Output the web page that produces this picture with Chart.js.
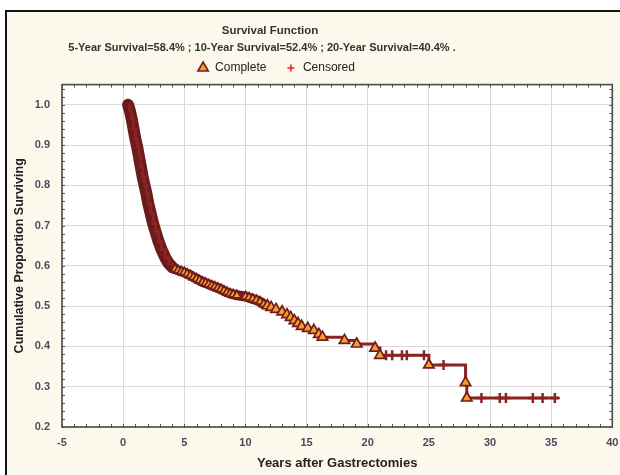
<!DOCTYPE html>
<html><head><meta charset="utf-8">
<script src="https://cdn.jsdelivr.net/npm/chart.js@4.4.1/dist/chart.umd.min.js"></script>
<style>
html,body{margin:0;padding:0;background:#fff;width:620px;height:475px;overflow:hidden;}
#frame{position:absolute;left:5px;top:10px;width:700px;height:600px;border:2px solid #111;background:#fdf8ec;}
#c{position:absolute;left:0;top:0;}
</style></head><body>
<div id="frame"></div>
<canvas id="c" width="620" height="475"></canvas>
<script>
// ---- text ----
const titleText = 'Survival Function';
const subtitleText = '5-Year Survival=58.4% ; 10-Year Survival=52.4% ; 20-Year Survival=40.4% .';
const xAxisTitle = 'Years after Gastrectomies';
const yAxisTitle = 'Cumulative Proportion Surviving';
const legendLabels = ['Complete', 'Censored'];

// ---- ticks ----
const xTickValues = [-5, 0, 5, 10, 15, 20, 25, 30, 35, 40];
const yTickValues = [0.2, 0.3, 0.4, 0.5, 0.6, 0.7, 0.8, 0.9, 1.0];

// ---- data: dense early part of the curve (many overlapping events) ----
const earlyTimes = [0.40, 0.55, 0.70, 0.85, 1.00, 1.15, 1.30, 1.45, 1.60, 1.75, 1.90, 2.05, 2.25, 2.45, 2.65, 2.90, 3.15, 3.45, 3.75, 4.05];
const earlySurv  = [1.000, 0.985, 0.965, 0.940, 0.915, 0.895, 0.870, 0.845, 0.820, 0.800, 0.780, 0.755, 0.730, 0.705, 0.685, 0.660, 0.640, 0.620, 0.605, 0.596];

// ---- data: complete (event) times and survival after each event ----
const eventTimes = [4.25, 4.50, 4.75, 5.00, 5.25, 5.50, 5.75, 6.00, 6.25, 6.50, 6.75, 7.00, 7.25, 7.50, 7.75, 8.00, 8.25, 8.50, 8.75, 9.00, 9.30,
                    10.00, 10.30, 10.60, 10.90, 11.20, 11.50, 11.80, 12.10, 12.50, 13.00, 13.40, 13.70, 14.00, 14.30, 14.60, 15.10, 15.60, 16.00, 16.30,
                    18.10, 19.10, 20.60, 21.00, 25.00, 28.00, 28.10];
const eventSurv  = [0.592, 0.589, 0.586, 0.584, 0.580, 0.576, 0.572, 0.568, 0.564, 0.560, 0.557, 0.554, 0.551, 0.548, 0.545, 0.542, 0.538, 0.534, 0.531, 0.529, 0.527,
                    0.524, 0.521, 0.518, 0.515, 0.511, 0.505, 0.501, 0.497, 0.492, 0.486, 0.479, 0.472, 0.464, 0.457, 0.450, 0.445, 0.440, 0.430, 0.423,
                    0.415, 0.406, 0.396, 0.378, 0.354, 0.310, 0.272];

// ---- data: censored observations ----
const censoredTimes = [21.5, 22.0, 22.8, 23.2, 24.6, 26.2, 29.3, 30.8, 31.3, 33.5, 34.3, 35.3];
const censoredSurv  = [0.378, 0.378, 0.378, 0.378, 0.378, 0.354, 0.272, 0.272, 0.272, 0.272, 0.272, 0.272];

// ---- end of follow-up ----
const lastFollowUp = [35.6];
const lastSurv = [0.272];

// ---- styles ----
const C_LINE = '#8a2422', C_BAND = '#6a1c1c', C_TRI_FILL = '#f4a02e', C_TRI_EDGE = '#731c1c', C_CENS_LEG = '#e02a2a';
const FONT = "'Liberation Sans',Arial,sans-serif";
const BAND_END = 11.6;   // dense overlapping markers merge into a dark band up to here

const pts = (xs, ys) => xs.map((x, i) => ({x, y: ys[i]}));
const stepData = pts(earlyTimes, earlySurv).concat(pts(eventTimes, eventSurv), pts(lastFollowUp, lastSurv));
const bandData = pts(earlyTimes, earlySurv).concat(pts(eventTimes, eventSurv).filter(p => p.x <= BAND_END));

// small red plus used as legend marker for censored
const plus = document.createElement('canvas');
plus.width = 8; plus.height = 8;
(function(){ const g = plus.getContext('2d'); g.strokeStyle = C_CENS_LEG; g.lineWidth = 1.6;
  g.beginPath(); g.moveTo(4,0.5); g.lineTo(4,7.5); g.moveTo(0.5,4); g.lineTo(7.5,4); g.stroke(); })();

const LEG_PAD = 18.5;
const LEG_FONT = 12;

const framePlugin = {
  id: 'framePlugin',
  beforeDraw(chart) {
    const {ctx, chartArea: a} = chart;
    ctx.save(); ctx.fillStyle = '#ffffff';
    ctx.fillRect(a.left, a.top, a.right - a.left, a.bottom - a.top); ctx.restore();
  },
  afterLayout(chart) {
    const t = chart.titleBlock;
    if (t) { t.left = 0; t.right = 540; t.top = 31 - 6.6; t.bottom = t.top + 13.2; }
    chart.boxes.forEach(b => {
      if (b.options && b.options.text === subtitleText) { b.left = 0; b.right = 524; b.top = 48 - 6.6; b.bottom = b.top + 13.2; }
    });
    const l = chart.legend;
    if (l) { const h = l.height; l.left = 0; l.right = 552; l.top = 68 - LEG_PAD - LEG_FONT / 2; l.bottom = l.top + h; }
  },
  afterDraw(chart) {
    const {ctx, chartArea: a, scales: {x, y}} = chart;
    ctx.save();
    ctx.strokeStyle = '#555'; ctx.lineWidth = 1;
    ctx.beginPath();
    for (let v = -5; v <= 40; v += 1) {
      const px = Math.round(x.getPixelForValue(v)) + 0.5;
      ctx.moveTo(px, a.bottom); ctx.lineTo(px, a.bottom - 3);
      ctx.moveTo(px, a.top); ctx.lineTo(px, a.top + 3);
    }
    for (let k = 0; k <= 42; k++) {
      const v = 0.2 + k * 0.02;
      if (v > 1.05) break;
      const py = Math.round(y.getPixelForValue(v)) + 0.5;
      ctx.moveTo(a.left, py); ctx.lineTo(a.left + 3, py);
      ctx.moveTo(a.right, py); ctx.lineTo(a.right - 3, py);
    }
    ctx.stroke();
    ctx.strokeStyle = '#4a4a4a'; ctx.lineWidth = 1.6;
    ctx.strokeRect(a.left, a.top, a.right - a.left, a.bottom - a.top);
    ctx.restore();
  }
};

new Chart(document.getElementById('c'), {
  type: 'scatter',
  data: {
    datasets: [
      { label: 'band', data: bandData, showLine: true, borderColor: C_BAND, borderWidth: 12,
        borderCapStyle: 'round', borderJoinStyle: 'round', pointRadius: 0, order: 4,
        segment: { borderWidth: ctx => (ctx.p0.parsed.x >= 4.0 ? 10 : 12) } },
      { label: 'curve', data: stepData, showLine: true, stepped: 'before', borderColor: C_LINE, borderWidth: 3,
        pointRadius: 0, order: 3 },
      { label: legendLabels[1], data: pts(censoredTimes, censoredSurv), pointStyle: 'cross', pointRadius: 5,
        pointBorderWidth: 2.5, borderColor: C_LINE, backgroundColor: C_LINE, order: 2 },
      { label: legendLabels[0], data: pts(eventTimes, eventSurv), pointStyle: 'triangle',
        pointRadius: ctx => (ctx.raw && ctx.raw.x <= BAND_END ? 5 : 6),
        pointBorderWidth: 1.7, borderColor: C_TRI_EDGE, backgroundColor: C_TRI_FILL, order: 1 }
    ]
  },
  options: {
    responsive: false, animation: false,
    layout: { padding: { top: 84 - 13.2 - 13.2 - (LEG_FONT + LEG_PAD + 10), right: 3, left: 0, bottom: 0 } },
    plugins: {
      tooltip: { enabled: false },
      title: { display: true, text: titleText, color: '#333', padding: {top: 0, bottom: 0},
        font: { family: FONT, size: 11.5, weight: 'bold', lineHeight: 1.2 } },
      subtitle: { display: true, text: subtitleText, color: '#333', padding: {top: 0, bottom: 0},
        font: { family: FONT, size: 11, weight: 'bold', lineHeight: 1.2 } },
      legend: {
        display: true, position: 'top',
        labels: {
          usePointStyle: true, boxHeight: 8.5, padding: LEG_PAD, color: '#222',
          font: { family: FONT, size: LEG_FONT },
          generateLabels(chart) {
            const ds = chart.data.datasets;
            return [
              { text: ds[3].label, pointStyle: 'triangle', fillStyle: ds[3].backgroundColor, strokeStyle: ds[3].borderColor,
                lineWidth: 1.6, hidden: false, datasetIndex: 3, fontColor: '#222' },
              { text: ds[2].label, pointStyle: plus, fillStyle: C_CENS_LEG, strokeStyle: C_CENS_LEG,
                lineWidth: 1.5, hidden: false, datasetIndex: 2, fontColor: '#222' }
            ];
          }
        }
      }
    },
    scales: {
      x: {
        type: 'linear', min: -5, max: 40,
        afterBuildTicks(s) { s.ticks = xTickValues.map(v => ({value: v})); },
        afterFit(s) { s.height = 48; s.paddingLeft = 0; s.paddingRight = 0; },
        grid: { color: '#dadada', lineWidth: 1, drawTicks: false },
        border: { display: false },
        ticks: { padding: 9, color: '#4b4b5e', maxRotation: 0, autoSkip: false,
          font: { family: FONT, size: 11, weight: 'bold' }, callback: v => String(v) },
        title: { display: true, text: xAxisTitle, color: '#222', padding: {top: 0, bottom: 4},
          font: { family: FONT, size: 13, weight: 'bold', lineHeight: 1.2 } }
      },
      y: {
        type: 'linear', min: 0.2, max: 1.05,
        afterBuildTicks(s) { s.ticks = yTickValues.map(v => ({value: v})); },
        afterFit(s) { s.width = 62; s.paddingTop = 0; s.paddingBottom = 0; },
        grid: { color: '#dadada', lineWidth: 1, drawTicks: false },
        border: { display: false },
        ticks: { padding: 12, color: '#4b4b5e', autoSkip: false,
          font: { family: FONT, size: 11, weight: 'bold' }, callback: v => Number(v).toFixed(1) },
        title: { display: true, text: yAxisTitle, color: '#222', padding: {top: 12, bottom: 0},
          font: { family: FONT, size: 12.5, weight: 'bold', lineHeight: 1.2 } }
      }
    }
  },
  plugins: [framePlugin]
});
</script>
</body></html>
